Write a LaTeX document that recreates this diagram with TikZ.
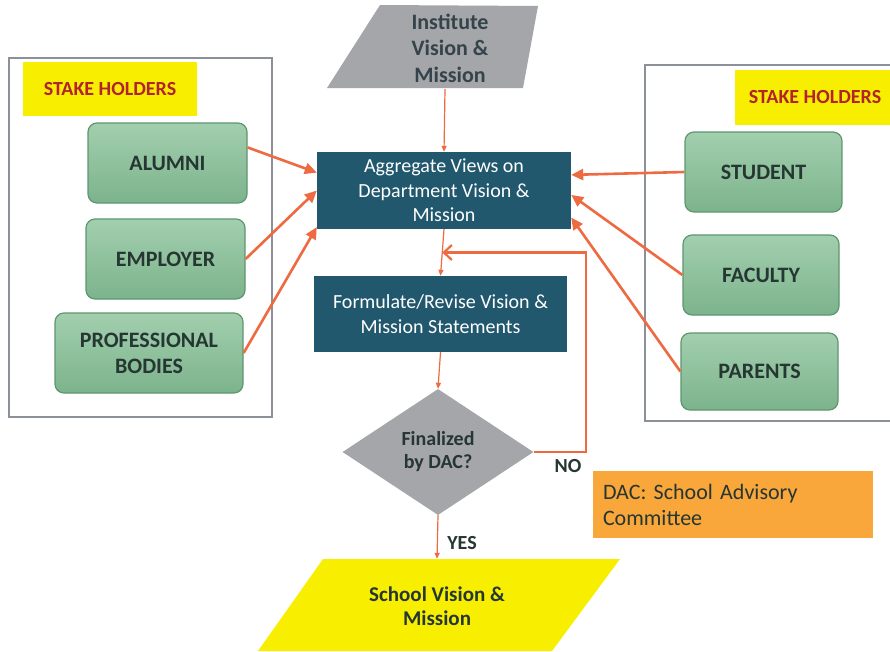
\documentclass[tikz,border=0pt]{standalone}
\usepackage{fontspec}
\setmainfont{Carlito}
\usetikzlibrary{arrows.meta,shapes.geometric,calc}
\definecolor{arrowred}{HTML}{EE6A40}
\definecolor{panelgray}{HTML}{A4A6A9}
\definecolor{deepteal}{HTML}{21586D}
\definecolor{leaftop}{HTML}{A2CFAE}
\definecolor{leafbot}{HTML}{7CB38C}
\definecolor{leafdark}{HTML}{5E9670}
\definecolor{sunny}{HTML}{F8EF00}
\definecolor{amber}{HTML}{F9A63A}
\definecolor{holderred}{HTML}{B2232E}
\definecolor{inkdark}{HTML}{263632}
\definecolor{slateink}{HTML}{34444A}
\definecolor{framegray}{HTML}{8C9099}
\frenchspacing

\begin{document}
\begin{tikzpicture}[x=1pt,y=-1pt,
  group/.style={draw=framegray,line width=1.5pt},
  tag/.style={fill=sunny,text=holderred,font=\bfseries\fontsize{20}{24}\selectfont,inner sep=0pt},
  party/.style={draw=leafdark,line width=1.2pt,rounded corners=9pt,top color=leaftop,bottom color=leafbot,
    text=inkdark,font=\bfseries\fontsize{22}{26}\selectfont,align=center,inner sep=0pt,minimum height=80pt},
  stepbox/.style={fill=deepteal,text=white,font=\fontsize{20}{24.5}\selectfont,align=center,inner sep=0pt},
  cue/.style={text=inkdark,font=\bfseries\fontsize{20}{24}\selectfont,inner sep=0pt},
  feed/.style={-{Triangle[length=12pt,width=11pt]},arrowred,line width=2.6pt},
  flow/.style={-{Triangle[length=6pt,width=5pt]},arrowred,line width=1.2pt}]

  \useasboundingbox (0,0) rectangle (890,651);
  \fill[white] (0,0) rectangle (890,651);

  % stake holder frames
  \draw[group] (9,58) rectangle (272,417);
  \draw[group] (645,65) rectangle (900,421);
  \node[tag,minimum width=174pt,minimum height=54pt] (tagleft) at (110,89) {STAKE HOLDERS};
  \node[tag,minimum width=160pt,minimum height=55pt] (tagright) at (815,97.5) {STAKE HOLDERS};

  \node[party,minimum width=159pt] (alumni) at (167.5,163) {ALUMNI};
  \node[party,minimum width=159pt] (employer) at (165.5,259) {EMPLOYER};
  \node[party,minimum width=188pt] (bodies) at (149,353) {PROFESSIONAL\\BODIES};
  \node[party,minimum width=157pt] (student) at (763.5,172) {STUDENT};
  \node[party,minimum width=156pt] (faculty) at (761,275) {FACULTY};
  \node[party,minimum width=157pt,minimum height=77pt] (parents) at (759.5,371.5) {PARENTS};

  % institute input
  \fill[panelgray] (380,5) -- (538,6) -- (523,88) -- (327,88) -- cycle;
  \node[text=slateink,font=\bfseries\fontsize{22}{26.5}\selectfont,align=center] (inst) at (450,48)
    {Institute\\Vision \&\\Mission};
  \coordinate (instfoot) at (445,89);

  % process steps
  \node[stepbox,minimum width=254pt,minimum height=77pt] (agg) at (444,190.5)
    {Aggregate Views on\\Department Vision \&\\Mission};
  \node[stepbox,minimum width=253pt,minimum height=76pt] (form) at (440.5,314)
    {Formulate/Revise Vision \&\\Mission Statements};
  \node[diamond,aspect=1.5,fill=panelgray,inner sep=0pt,minimum width=191pt,minimum height=126pt,
    text=inkdark,font=\bfseries\fontsize{20}{23}\selectfont,align=center] (dec) at (438,452)
    {Finalized\\by DAC?};

  % school output
  \fill[sunny] (323,559) -- (620,559) -- (552,651) -- (258,651) -- cycle;
  \node[text=inkdark,font=\bfseries\fontsize{21}{24}\selectfont,align=center,minimum height=94pt] (school)
    at (437,606) {School Vision \&\\Mission};

  \node[fill=amber,minimum width=280pt,minimum height=67pt,text width=260pt,inner sep=10pt,align=left,
    text=inkdark,font=\fontsize{22}{26}\selectfont] (note) at (733,504.5)
    {DAC: School Advisory\\Committee};

  \coordinate (join) at ($(agg.south)!0.5!(form.north)$);

  % connectors
  \draw[feed] (alumni.11) -- (agg.172);
  \draw[feed] (employer.east) -- (agg.west);
  \draw[feed] (bodies.east) -- (agg.196);
  \draw[feed] (student.west) -- (agg.7);
  \draw[feed] (faculty.west) -- (agg.-2);
  \draw[feed] (parents.west) -- (agg.-12);

  \draw[flow] (instfoot) -- (agg.north);
  \draw[flow] (agg.south) -- (form.north);
  \draw[flow] (form.south) -- (dec.north);
  \draw[flow] (dec.south) -- (school.north);
  \draw[arrowred,line width=2.2pt,-{Straight Barb[length=8pt,width=15pt]}]
    (dec.east) -- ++(52,0) |- (join);

  \node[cue] (nolbl) at (568,466) {NO};
  \node[cue] (yeslbl) at (462,543) {YES};
\end{tikzpicture}
\end{document}
